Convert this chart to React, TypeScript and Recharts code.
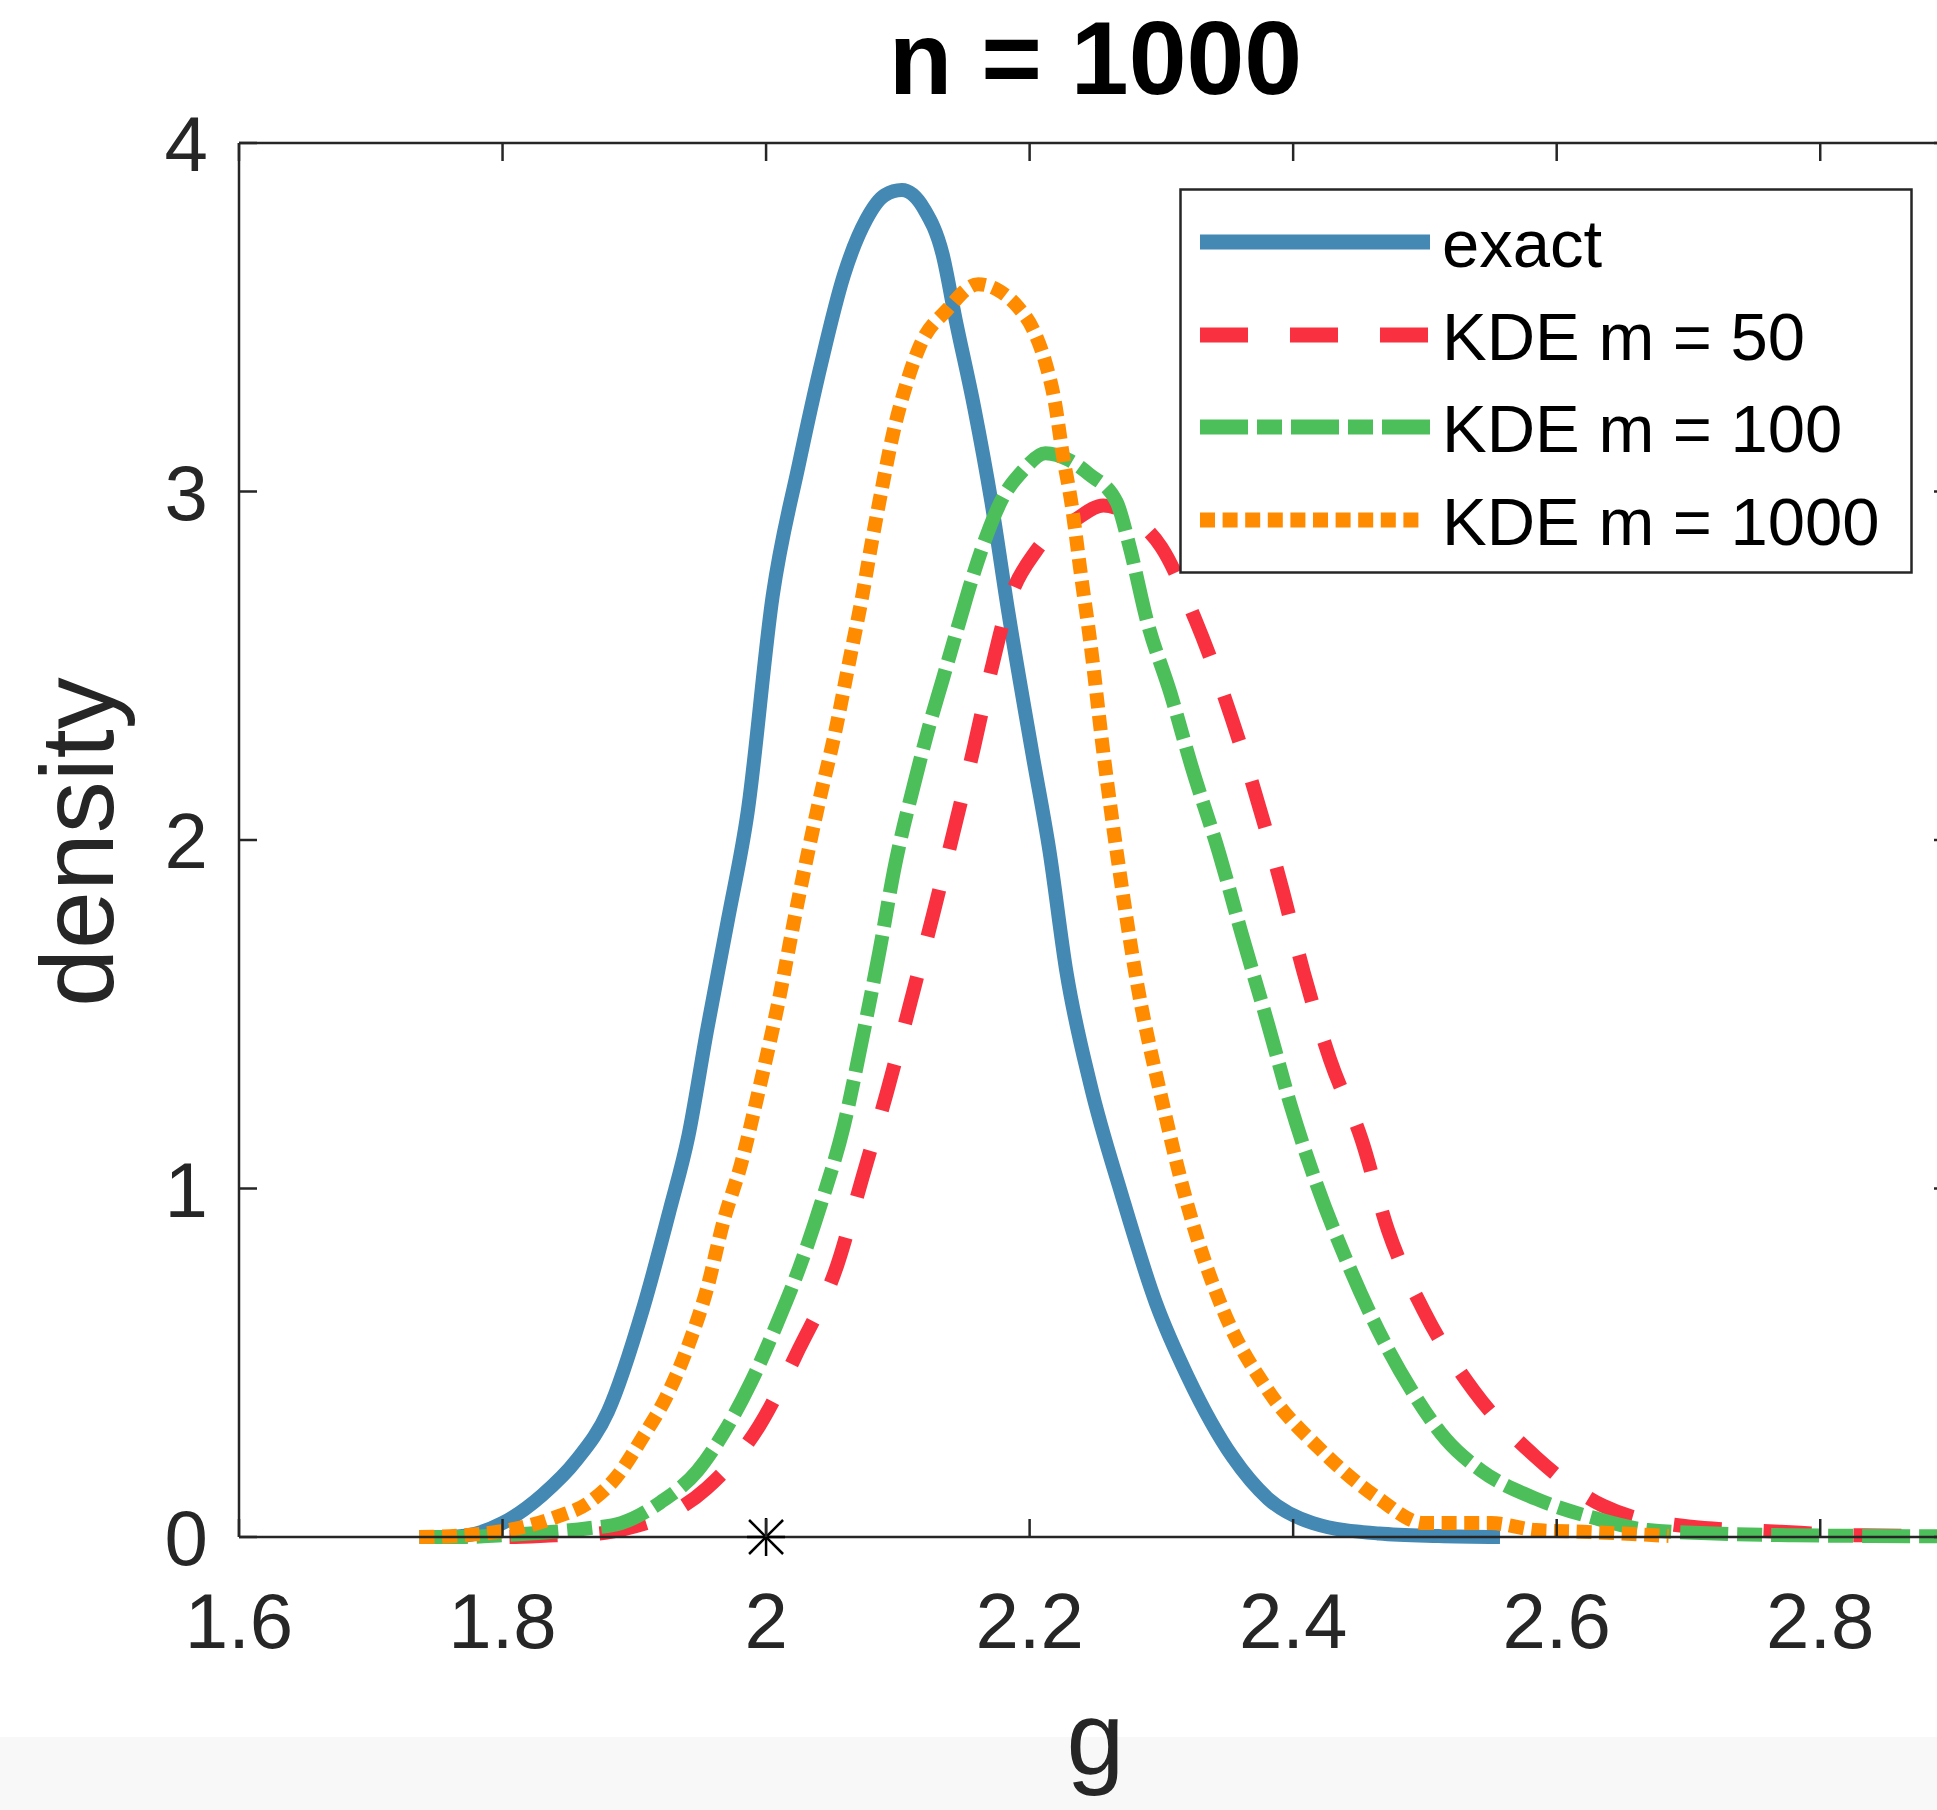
import React from 'react';
import { ComposedChart, Line, Scatter, XAxis, YAxis, Legend } from 'recharts';

// exact density
const gExact = [1.76, 1.78, 1.8, 1.83, 1.856, 1.88, 1.907, 1.927, 1.941, 1.955, 1.971, 1.986, 2.005, 2.025, 2.042, 2.059, 2.076, 2.09, 2.103, 2.12, 2.134, 2.144, 2.158, 2.171, 2.184, 2.202, 2.215, 2.228, 2.246, 2.27, 2.296, 2.32, 2.354, 2.381, 2.415, 2.465, 2.51, 2.557];
const dExact = [0, 0.01, 0.04, 0.12, 0.22, 0.36, 0.66, 0.94, 1.15, 1.45, 1.77, 2.08, 2.7, 3.08, 3.37, 3.62, 3.78, 3.85, 3.865, 3.81, 3.68, 3.49, 3.24, 2.97, 2.65, 2.25, 1.97, 1.62, 1.3, 0.98, 0.67, 0.46, 0.23, 0.11, 0.04, 0.01, 0.003, 0];

// KDE m = 50
const gM50 = [1.737, 1.8, 1.84, 1.873, 1.9, 1.92, 1.955, 1.995, 2.025, 2.054, 2.073, 2.092, 2.11, 2.127, 2.144, 2.158, 2.171, 2.184, 2.205, 2.235, 2.256, 2.28, 2.3, 2.326, 2.347, 2.37, 2.391, 2.408, 2.428, 2.452, 2.472, 2.499, 2.537, 2.584, 2.635, 2.7, 2.77, 2.83, 2.9];
const dM50 = [0, 0, 0.005, 0.01, 0.03, 0.055, 0.14, 0.32, 0.54, 0.78, 1.03, 1.28, 1.54, 1.79, 2.05, 2.27, 2.49, 2.68, 2.83, 2.92, 2.96, 2.92, 2.84, 2.63, 2.42, 2.15, 1.87, 1.62, 1.37, 1.14, 0.88, 0.65, 0.42, 0.23, 0.09, 0.03, 0.015, 0.005, 0.003];

// KDE m = 100
const gM100 = [1.737, 1.771, 1.8, 1.839, 1.865, 1.89, 1.92, 1.948, 1.968, 1.988, 2.008, 2.025, 2.042, 2.059, 2.073, 2.086, 2.098, 2.113, 2.124, 2.134, 2.147, 2.158, 2.168, 2.178, 2.195, 2.212, 2.23, 2.245, 2.266, 2.276, 2.289, 2.307, 2.323, 2.344, 2.361, 2.381, 2.398, 2.418, 2.442, 2.465, 2.49, 2.516, 2.543, 2.584, 2.628, 2.669, 2.72, 2.78, 2.84, 2.9];
const dM100 = [0, 0, 0.005, 0.015, 0.025, 0.04, 0.1, 0.19, 0.3, 0.44, 0.61, 0.77, 0.96, 1.18, 1.43, 1.68, 1.93, 2.17, 2.33, 2.46, 2.63, 2.77, 2.88, 2.97, 3.06, 3.11, 3.09, 3.05, 2.97, 2.84, 2.63, 2.42, 2.21, 1.96, 1.73, 1.47, 1.24, 1.01, 0.78, 0.59, 0.42, 0.28, 0.19, 0.11, 0.055, 0.02, 0.01, 0.005, 0.003, 0.002];

// KDE m = 1000
const gM1000 = [1.737, 1.77, 1.805, 1.839, 1.866, 1.886, 1.907, 1.924, 1.941, 1.955, 1.968, 1.981, 1.995, 2.008, 2.025, 2.039, 2.053, 2.063, 2.073, 2.08, 2.089, 2.096, 2.105, 2.117, 2.137, 2.161, 2.175, 2.191, 2.202, 2.212, 2.219, 2.225, 2.232, 2.239, 2.246, 2.256, 2.269, 2.282, 2.3, 2.32, 2.347, 2.381, 2.421, 2.465, 2.499, 2.55, 2.584, 2.62, 2.65, 2.685];
const dM1000 = [0, 0.005, 0.02, 0.055, 0.1, 0.17, 0.29, 0.4, 0.55, 0.71, 0.91, 1.07, 1.29, 1.51, 1.84, 2.09, 2.32, 2.51, 2.7, 2.85, 3.03, 3.16, 3.29, 3.42, 3.52, 3.595, 3.58, 3.53, 3.47, 3.37, 3.26, 3.11, 2.96, 2.76, 2.57, 2.25, 1.89, 1.58, 1.26, 0.95, 0.65, 0.42, 0.25, 0.11, 0.04, 0.04, 0.02, 0.015, 0.01, 0.003];

// true value marker
const markerG = [2];
const markerD = [0];

const xTicks = [1.6, 1.8, 2, 2.2, 2.4, 2.6, 2.8];
const yTicks = [0, 1, 2, 3, 4];

const FONT = '"Liberation Sans", Arial, Helvetica, sans-serif';
const AXIS_COLOR = '#262626';
const TICK_LEN = 18;
const LINE_W = 14;

// plot box (pixels)
const PLOT_LEFT = 239;
const PLOT_TOP = 143;
const PLOT_BOTTOM = 1537;
const PLOT_RIGHT = 1952;

const zip = (g: number[], d: number[]) => g.map((v, i) => ({ g: v, d: d[i] }));

const series = [
  { key: 'exact', name: 'exact', color: '#4488B4', dash: undefined as string | undefined, data: zip(gExact, dExact) },
  { key: 'm50', name: 'KDE m = 50', color: '#F9303F', dash: '48 42', data: zip(gM50, dM50) },
  { key: 'm100', name: 'KDE m = 100', color: '#4CBF5B', dash: '48 9 25 9', data: zip(gM100, dM100) },
  { key: 'm1000', name: 'KDE m = 1000', color: '#FF8C00', dash: '15 7.6', data: zip(gM1000, dM1000) },
];

const BottomTick = (props: any) => {
  const { x, payload } = props;
  return (
    <g>
      <line x1={x} y1={PLOT_BOTTOM} x2={x} y2={PLOT_BOTTOM - TICK_LEN} stroke={AXIS_COLOR} strokeWidth={2.5} />
      <text x={x} y={PLOT_BOTTOM + 111} textAnchor="middle" fontSize={78} fontFamily={FONT} fill={AXIS_COLOR}>
        {String(payload.value)}
      </text>
    </g>
  );
};

const TopTick = (props: any) => {
  const { x } = props;
  return <line x1={x} y1={PLOT_TOP} x2={x} y2={PLOT_TOP + TICK_LEN} stroke={AXIS_COLOR} strokeWidth={2.5} />;
};

const LeftTick = (props: any) => {
  const { y, payload } = props;
  return (
    <g>
      <line x1={PLOT_LEFT} y1={y} x2={PLOT_LEFT + TICK_LEN} y2={y} stroke={AXIS_COLOR} strokeWidth={2.5} />
      <text x={PLOT_LEFT - 31} y={y + 28} textAnchor="end" fontSize={78} fontFamily={FONT} fill={AXIS_COLOR}>
        {String(payload.value)}
      </text>
    </g>
  );
};

const RightTick = (props: any) => {
  const { y } = props;
  return <line x1={PLOT_RIGHT} y1={y} x2={PLOT_RIGHT - TICK_LEN} y2={y} stroke={AXIS_COLOR} strokeWidth={2.5} />;
};

const XLabel = (props: any) => {
  const { x, width } = props.viewBox;
  return (
    <text x={x + width / 2} y={1774} textAnchor="middle" fontSize={104} fontFamily={FONT} fill={AXIS_COLOR}>
      g
    </text>
  );
};

const YLabel = () => {
  const cx = 113;
  const cy = (PLOT_TOP + PLOT_BOTTOM) / 2 + 2;
  return (
    <text x={cx} y={cy} transform={`rotate(-90, ${cx}, ${cy})`} textAnchor="middle" fontSize={104} fontFamily={FONT} fill={AXIS_COLOR}>
      density
    </text>
  );
};

const Title = () => (
  <text x={(PLOT_LEFT + PLOT_RIGHT) / 2} y={94} textAnchor="middle" fontSize={104} fontWeight="bold" fontFamily={FONT} fill="#000000">
    n = 1000
  </text>
);

const Asterisk = (props: any) => {
  const { cx, cy } = props;
  if (cx == null || cy == null) return null;
  const a = 17;
  const b = 19;
  return (
    <g stroke="#000000" strokeWidth={2.5}>
      <line x1={cx - a} y1={cy - a} x2={cx + a} y2={cy + a} />
      <line x1={cx - a} y1={cy + a} x2={cx + a} y2={cy - a} />
      <line x1={cx} y1={cy - b} x2={cx} y2={cy + b} />
      <line x1={cx - b} y1={cy} x2={cx + b} y2={cy} />
    </g>
  );
};

const LegendBox = () => {
  const rows = [54, 147, 239, 332];
  return (
    <svg width={734} height={386} style={{ display: 'block' }}>
      <rect x={1.5} y={1.5} width={731} height={383} fill="#ffffff" stroke={AXIS_COLOR} strokeWidth={2.5} />
      {series.map((s, i) => (
        <g key={s.key}>
          <line
            x1={21}
            y1={rows[i]}
            x2={s.key === 'm1000' ? 240 : 251}
            y2={rows[i]}
            stroke={s.color}
            strokeWidth={LINE_W + 1}
            strokeDasharray={s.dash}
          />
          <text x={263} y={rows[i] + 25} fontSize={67} fontFamily={FONT} fill="#000000">
            {s.name}
          </text>
        </g>
      ))}
    </svg>
  );
};

const App = () => {
  return (
    <div style={{ position: 'absolute', left: 0, top: 0, width: 1937, height: 1810, overflow: 'hidden', background: '#ffffff' }}>
      <div style={{ position: 'absolute', left: 0, top: 1737, width: 1937, height: 73, background: '#f8f8f8' }} />
      <div style={{ position: 'absolute', left: 0, top: 0 }}>
        <ComposedChart width={1980} height={1810} margin={{ top: PLOT_TOP - 1, right: 27, bottom: 0, left: 0 }}>
          <XAxis
            xAxisId={0}
            dataKey="g"
            type="number"
            domain={[1.6, 2.9]}
            ticks={xTicks}
            height={1810 - PLOT_BOTTOM}
            tickSize={0}
            tickMargin={0}
            tick={<BottomTick />}
            axisLine={{ stroke: AXIS_COLOR, strokeWidth: 2.5 }}
            label={<XLabel />}
          />
          <XAxis
            xAxisId="top"
            orientation="top"
            dataKey="g"
            type="number"
            domain={[1.6, 2.9]}
            ticks={xTicks}
            height={1}
            tickSize={0}
            tickMargin={0}
            tick={<TopTick />}
            axisLine={{ stroke: AXIS_COLOR, strokeWidth: 2.5 }}
            label={<Title />}
          />
          <YAxis
            yAxisId={0}
            type="number"
            domain={[0, 4]}
            ticks={yTicks}
            width={PLOT_LEFT}
            tickSize={0}
            tickMargin={0}
            tick={<LeftTick />}
            axisLine={{ stroke: AXIS_COLOR, strokeWidth: 2.5 }}
            label={<YLabel />}
          />
          <YAxis
            yAxisId="right"
            orientation="right"
            type="number"
            domain={[0, 4]}
            ticks={yTicks}
            width={1}
            tickSize={0}
            tickMargin={0}
            tick={<RightTick />}
            axisLine={{ stroke: AXIS_COLOR, strokeWidth: 2.5 }}
          />
          {series.map((s) => (
            <Line
              key={s.key}
              data={s.data}
              dataKey="d"
              name={s.name}
              type="monotone"
              stroke={s.color}
              strokeWidth={LINE_W}
              strokeDasharray={s.dash}
              dot={false}
              activeDot={false}
              isAnimationActive={false}
            />
          ))}
          <Scatter
            xAxisId="top"
            yAxisId="right"
            data={zip(markerG, markerD)}
            dataKey="d"
            shape={(p: any) => <Asterisk {...p} />}
            isAnimationActive={false}
          />
          <Legend
            content={<LegendBox />}
            layout="vertical"
            align="center"
            verticalAlign="middle"
            wrapperStyle={{ left: 1179, top: 188, width: 734, height: 386 }}
          />
        </ComposedChart>
      </div>
    </div>
  );
};

export default App;
